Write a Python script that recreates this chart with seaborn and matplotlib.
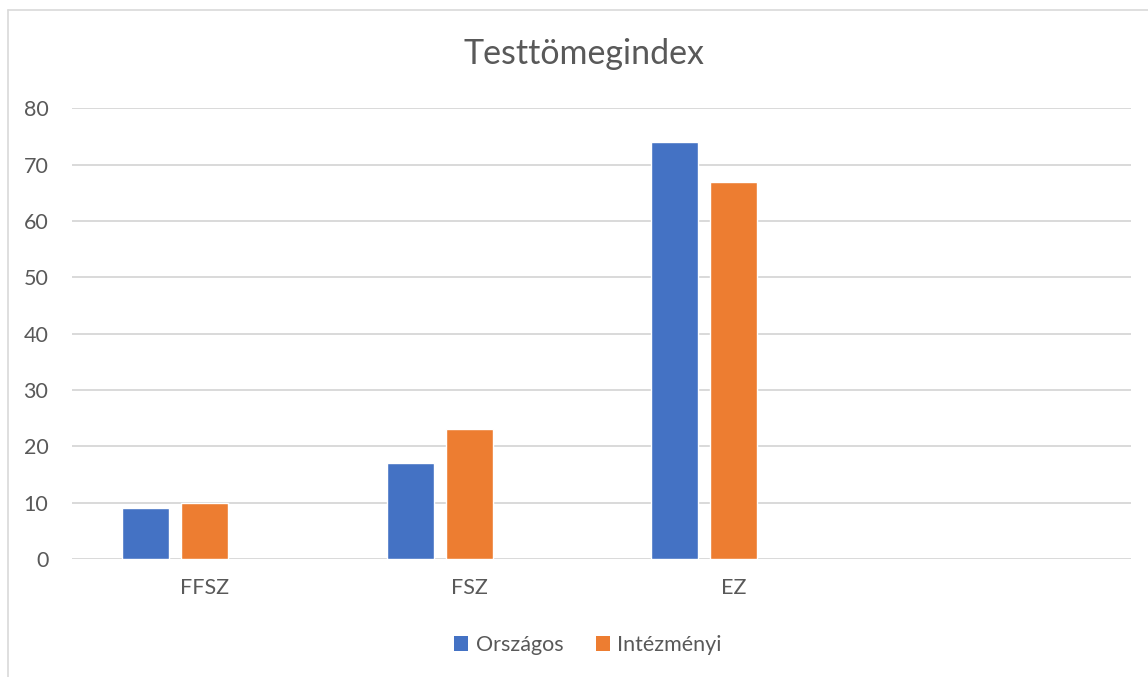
import numpy as np
import pandas as pd
import seaborn as sns
import matplotlib
matplotlib.use("Agg")
import matplotlib.pyplot as plt
from matplotlib.patches import Patch
from matplotlib.lines import Line2D

# Categories and series values
categories = ["FFSZ", "FSZ", "EZ", ""]
orszagos = [9, 17, 74, np.nan]
intezmenyi = [10, 23, 67, np.nan]
series_names = ["Országos", "Intézményi", " "]
colors = ["#4472C4", "#ED7D31", "#A5A5A5"]
title = "Testtömegindex"
yticks = [0, 10, 20, 30, 40, 50, 60, 70, 80]

df = pd.DataFrame({
    "kategória": categories * 3,
    "sorozat": [series_names[0]] * 4 + [series_names[1]] * 4 + [series_names[2]] * 4,
    "érték": orszagos + intezmenyi + [np.nan] * 4,
})

sns.set_theme(style="white")
plt.rcParams["font.family"] = ["Lato", "DejaVu Sans"]

text_color = "#595959"
grid_color = "#D9D9D9"

fig = plt.figure(figsize=(11.48, 6.77), dpi=100)
ax = fig.add_axes([72 / 1148, 1 - 559 / 677, (1131 - 72) / 1148, (559 - 108.3) / 677])

sns.barplot(
    data=df, x="kategória", y="érték", hue="sorozat",
    order=categories, hue_order=series_names,
    palette=dict(zip(series_names, colors)),
    width=0.669, gap=0.204, dodge=True, legend=False,
    saturation=1, ax=ax, errorbar=None, zorder=3,
)

ax.set_xlim(-0.5, len(categories) - 0.5)
ax.set_ylim(0, 80)
ax.set_yticks(yticks)
ax.set_yticklabels([str(v) for v in yticks])
ax.yaxis.grid(True, color=grid_color, linewidth=1.4, zorder=0)
ax.xaxis.grid(False)
ax.set_axisbelow(True)
for s in ["top", "right", "left", "bottom"]:
    ax.spines[s].set_visible(False)
ax.set_xlabel("")
ax.set_ylabel("")
ax.tick_params(axis="y", length=0, pad=17, labelsize=15.5, labelcolor=text_color)
ax.tick_params(axis="x", length=0, pad=14, labelsize=15.5, labelcolor=text_color)

fig.text(584 / 1148, 1 - 54 / 677, title, ha="center", va="center",
         fontsize=24.5, color=text_color)

handles = [Patch(facecolor=colors[0], edgecolor="none"),
           Patch(facecolor=colors[1], edgecolor="none")]
fig.legend(handles, series_names[:2], loc="center", ncol=2,
           bbox_to_anchor=(588 / 1148, 1 - 645 / 677), frameon=False,
           fontsize=15.5, labelcolor=text_color, handlelength=0.65,
           handleheight=0.65, handletextpad=0.35, columnspacing=1.5)

# Chart area border (left and top edges)
fig.add_artist(Line2D([7.5 / 1148, 7.5 / 1148], [0, 1 - 10 / 677],
                      transform=fig.transFigure, color=grid_color, linewidth=1.2))
fig.add_artist(Line2D([7.5 / 1148, 1], [1 - 10 / 677, 1 - 10 / 677],
                      transform=fig.transFigure, color=grid_color, linewidth=1.2))

fig.savefig("out.png", dpi=100, facecolor="white")
